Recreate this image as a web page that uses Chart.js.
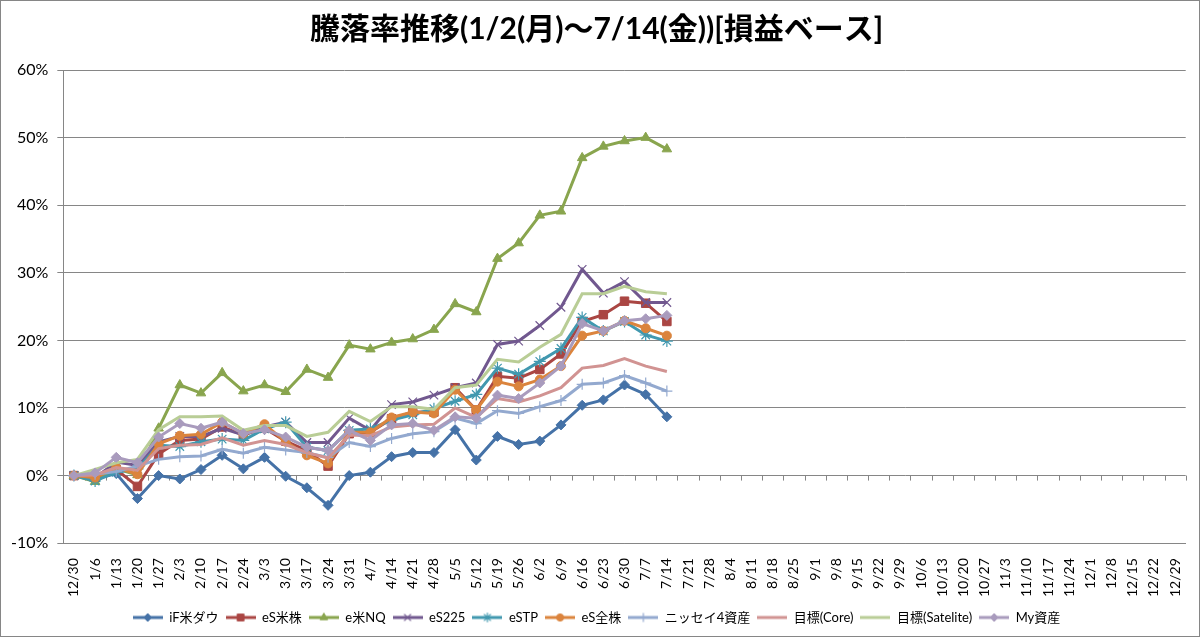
<!DOCTYPE html>
<html>
<head>
<meta charset="utf-8">
<script src="https://cdn.jsdelivr.net/npm/chart.js@4.4.1/dist/chart.umd.min.js"></script>
<style>
  html, body { margin: 0; padding: 0; background: #fff; }
  #wrap { width: 1200px; height: 637px; box-sizing: border-box; border: 1px solid #868686; position: relative; }
</style>
</head>
<body>
<div id="wrap"><canvas id="grafico"></canvas></div>
<script>
// 週ラベル (12/30 ～ 12/29)
const semanas = ['12/30','1/6','1/13','1/20','1/27','2/3','2/10','2/17','2/24','3/3','3/10','3/17','3/24','3/31',
  '4/7','4/14','4/21','4/28','5/5','5/12','5/19','5/26','6/2','6/9','6/16','6/23','6/30','7/7','7/14','7/21',
  '7/28','8/4','8/11','8/18','8/25','9/1','9/8','9/15','9/22','9/29','10/6','10/13','10/20','10/27','11/3',
  '11/10','11/17','11/24','12/1','12/8','12/15','12/22','12/29'];

// 騰落率 (%)
const ifDow    = [0, -0.5, 0.3, -3.4, 0, -0.5, 0.9, 3.0, 1.0, 2.7, -0.1, -1.8, -4.4, 0, 0.5, 2.8, 3.4, 3.4, 6.8, 2.3, 5.8, 4.6, 5.1, 7.5, 10.4, 11.2, 13.4, 12.0, 8.7];
const esUs     = [0, -0.3, 0.9, -1.6, 3.2, 5.2, 5.4, 7.2, 6.0, 7.0, 5.1, 3.7, 1.4, 6.2, 6.4, 8.4, 9.4, 9.4, 13.0, 9.7, 14.7, 14.4, 15.7, 18.0, 22.8, 23.8, 25.8, 25.5, 22.8];
const eNq      = [0, -0.9, 1.0, 0.1, 7.0, 13.4, 12.2, 15.2, 12.5, 13.4, 12.4, 15.7, 14.5, 19.3, 18.7, 19.7, 20.2, 21.6, 25.4, 24.2, 32.1, 34.4, 38.5, 39.1, 47.0, 48.7, 49.5, 50.0, 48.3];
const es225    = [0, -0.3, 2.0, 1.5, 5.0, 5.8, 5.8, 7.0, 6.0, 7.2, 7.9, 4.9, 4.9, 8.5, 6.7, 10.5, 10.9, 11.9, 13.0, 13.7, 19.4, 19.9, 22.2, 24.9, 30.5, 27.0, 28.7, 25.6, 25.6];
const eStp     = [0, -0.8, 0.5, 1.0, 4.5, 4.3, 5.0, 5.4, 5.2, 6.9, 7.9, 4.2, 3.7, 6.7, 6.9, 8.2, 9.0, 9.9, 11.0, 12.0, 15.9, 15.0, 16.9, 18.8, 23.4, 21.4, 22.8, 20.8, 19.9];
const esAll    = [0, -0.3, 1.2, 0.2, 4.7, 5.9, 6.1, 7.9, 6.2, 7.6, 5.0, 3.0, 1.8, 6.4, 6.4, 8.6, 9.4, 9.2, 12.7, 9.7, 13.9, 13.2, 14.2, 16.2, 20.7, 21.4, 22.9, 21.8, 20.7];
const nissay   = [0, 0.2, 0.6, 1.4, 2.4, 2.8, 2.9, 3.9, 3.3, 4.2, 3.8, 3.4, 2.7, 4.9, 4.3, 5.5, 6.2, 6.5, 8.5, 7.7, 9.6, 9.2, 10.2, 11.1, 13.5, 13.7, 14.8, 13.7, 12.5];
const metaCore = [0, 0.1, 1.2, 0.8, 4.0, 4.5, 4.6, 5.6, 4.5, 5.2, 4.6, 3.4, 2.6, 6.0, 5.9, 7.2, 7.5, 7.6, 10.0, 8.6, 11.4, 10.9, 11.8, 13.0, 15.9, 16.3, 17.3, 16.2, 15.4];
const metaSat  = [0, 0.9, 1.9, 2.4, 6.8, 8.7, 8.7, 8.8, 6.7, 7.4, 7.4, 5.8, 6.4, 9.5, 8.0, 10.2, 10.2, 9.8, 13.0, 13.4, 17.2, 16.8, 19.0, 20.9, 26.9, 26.9, 28.0, 27.2, 26.9];
const myAsset  = [0, 0.4, 2.7, 1.9, 5.7, 7.7, 7.0, 7.9, 6.2, 6.8, 5.7, 4.2, 3.7, 6.7, 5.2, 7.5, 7.7, 6.7, 8.7, 8.5, 11.9, 11.4, 13.7, 16.2, 22.5, 21.4, 22.9, 23.2, 23.7];

const series = [
  { nome: 'iF米ダウ',       dados: ifDow,    cor: '#4572A7', ponto: 'rectRot',  raio: 5 },
  { nome: 'eS米株',         dados: esUs,     cor: '#AA4643', ponto: 'rect',     raio: 6 },
  { nome: 'e米NQ',          dados: eNq,      cor: '#89A54E', ponto: 'triangle', raio: 5.5 },
  { nome: 'eS225',          dados: es225,    cor: '#71588F', ponto: 'crossRot', raio: 6 },
  { nome: 'eSTP',           dados: eStp,     cor: '#4198AF', ponto: 'star',     raio: 6 },
  { nome: 'eS全株',         dados: esAll,    cor: '#DB843D', ponto: 'circle',   raio: 4.5 },
  { nome: 'ニッセイ4資産',   dados: nissay,   cor: '#93A9CF', ponto: 'cross',    raio: 5.5 },
  { nome: '目標(Core)',     dados: metaCore, cor: '#D19392', ponto: false,      raio: 0 },
  { nome: '目標(Satelite)', dados: metaSat,  cor: '#B9CD96', ponto: false,      raio: 0 },
  { nome: 'My資産',         dados: myAsset,  cor: '#A99BBD', ponto: 'rectRot',  raio: 5 }
];

const fonte = "Lato, 'Noto Sans CJK JP', sans-serif";
const fino = (p) => p === 'cross' || p === 'crossRot' || p === 'star';

// legend swatch: line with marker, like Excel
const criaAmostra = (s) => {
  const c = document.createElement('canvas');
  c.width = 30; c.height = 14;
  const ctx = c.getContext('2d');
  ctx.strokeStyle = s.cor; ctx.lineWidth = 3;
  ctx.beginPath(); ctx.moveTo(0, 7); ctx.lineTo(30, 7); ctx.stroke();
  if (s.ponto && Chart.helpers && Chart.helpers.drawPoint) {
    ctx.fillStyle = s.cor; ctx.strokeStyle = s.cor;
    ctx.lineWidth = fino(s.ponto) ? 1.2 : 1;
    Chart.helpers.drawPoint(ctx, { pointStyle: s.ponto, radius: s.raio * 0.8, borderWidth: ctx.lineWidth, rotation: 0 }, 15, 7);
  }
  return c;
};
const amostras = series.map(criaAmostra);

// tick marks on the 0% line
const marcasZero = {
  id: 'marcasZero',
  beforeDatasetsDraw(chart) {
    const xs = chart.scales.x, ys = chart.scales.y, ctx = chart.ctx;
    const y0 = ys.getPixelForValue(0);
    const passo = xs.getPixelForValue(1) - xs.getPixelForValue(0);
    ctx.save();
    ctx.strokeStyle = '#868686'; ctx.lineWidth = 1;
    ctx.beginPath();
    for (let i = 0; i <= semanas.length; i++) {
      const px = Math.round(xs.getPixelForValue(i) - passo / 2) + 0.5;
      ctx.moveTo(px, y0); ctx.lineTo(px, y0 + 5);
    }
    ctx.stroke();
    ctx.restore();
  }
};

new Chart(document.getElementById('grafico'), {
  type: 'line',
  data: {
    labels: semanas,
    datasets: series.map((s, i) => ({
      label: s.nome,
      data: s.dados,
      borderColor: s.cor,
      backgroundColor: s.cor,
      borderWidth: 3,
      pointStyle: s.ponto,
      pointRadius: s.raio,
      pointHoverRadius: s.raio,
      pointBorderWidth: fino(s.ponto) ? 1.2 : 1,
      tension: 0,
      fill: false,
      order: series.length - i
    }))
  },
  options: {
    responsive: true,
    maintainAspectRatio: false,
    animation: false,
    layout: { padding: { left: 1, right: 8, top: 4, bottom: 2 } },
    plugins: {
      title: {
        display: true,
        text: '騰落率推移(1/2(月)～7/14(金))[損益ベース]',
        color: '#000',
        font: { family: fonte, size: 30, weight: 'bold' },
        padding: { top: 6, bottom: 23 }
      },
      legend: {
        position: 'bottom',
        labels: {
          color: '#000',
          font: { family: fonte, size: 13 },
          usePointStyle: true,
          pointStyleWidth: 30,
          padding: 7,
          sort: (a, b) => a.datasetIndex - b.datasetIndex,
          generateLabels: (chart) => {
            const itens = Chart.defaults.plugins.legend.labels.generateLabels(chart);
            itens.forEach((it) => { it.pointStyle = amostras[it.datasetIndex]; });
            return itens;
          }
        }
      },
      tooltip: { enabled: false }
    },
    scales: {
      x: {
        offset: true,
        grid: { display: false },
        border: { display: true, color: '#868686' },
        ticks: {
          autoSkip: false,
          maxRotation: 90,
          minRotation: 90,
          color: '#000',
          padding: 7,
          font: { family: fonte, size: 14 }
        }
      },
      y: {
        min: -10,
        max: 60,
        grid: { color: '#868686', tickLength: 6 },
        border: { display: true, color: '#868686' },
        ticks: {
          stepSize: 10,
          color: '#000',
          padding: 9,
          font: { family: fonte, size: 16 },
          callback: (v) => v + '%'
        }
      }
    }
  },
  plugins: [marcasZero]
});
</script>
</body>
</html>
